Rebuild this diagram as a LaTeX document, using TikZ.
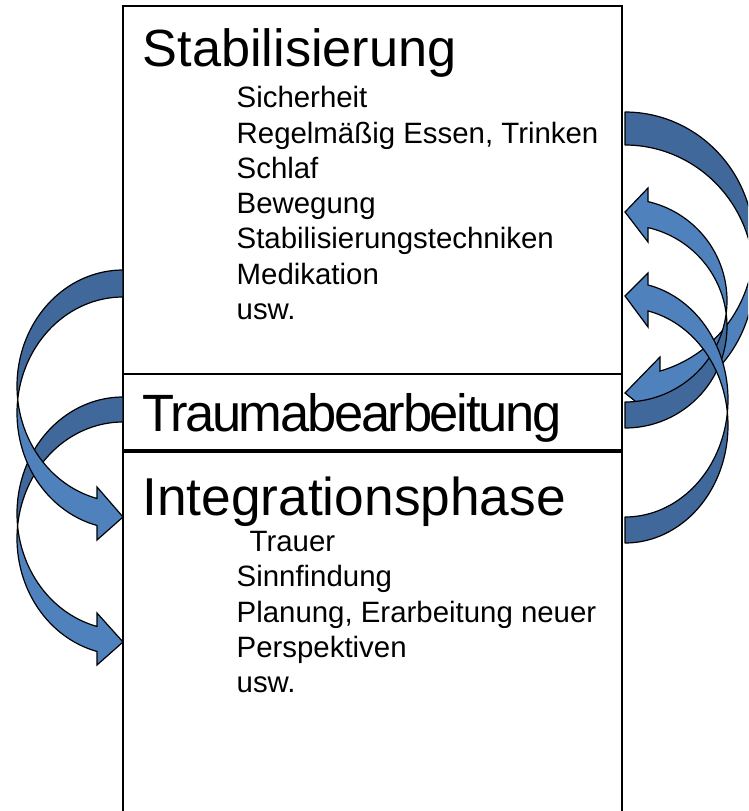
\documentclass[tikz,border=0pt]{standalone}
\usepackage{fontspec}
\setmainfont{Liberation Sans}
\newfontfamily\condfont[LetterSpace=-4.4]{Liberation Sans}
\definecolor{arrdark}{RGB}{64,104,154}
\definecolor{arrlight}{RGB}{79,129,189}
\tikzset{
  boxline/.style={draw=black, line width=1.3pt},
  backband/.style={fill=arrdark, draw=black, line width=1.2pt, line join=round},
  frontband/.style={fill=arrlight, draw=black, line width=1.2pt, line join=miter},
  titletext/.style={anchor=base west, inner sep=0pt, font=\fontsize{52.5}{60}\selectfont},
  itemtext/.style={anchor=base west, inner sep=0pt, font=\fontsize{29.4}{35.3}\selectfont},
}
\begin{document}
\begin{tikzpicture}[x=1pt,y=-1pt]
\useasboundingbox (0,0) rectangle (748,811);
\clip (0,0) rectangle (748,811);
% boxes
\draw[boxline] (123,6) rectangle (622,374);
\draw[boxline] (123,374) rectangle (622,450);
\draw[boxline] (123,452) rectangle (622,830);
% titles
\node[titletext, font=\fontsize{52.3}{60}\selectfont] (t1) at (142.5,66.7) {Stabilisierung};
\node[titletext] (t2) at (142,431.7) {\condfont Traumabearbeitung};
\node[titletext, font=\fontsize{53.3}{60}\selectfont] (t3) at (142,515) {Integrationsphase};
% upper list
\node[itemtext] (s1) at (236.5,107.7) {Sicherheit};
\node[itemtext] (s2) at (236.5,143.0) {Regelmäßig Essen, Trinken};
\node[itemtext] (s3) at (236.5,178.3) {Schlaf};
\node[itemtext] (s4) at (236.5,213.6) {Bewegung};
\node[itemtext] (s5) at (236.5,248.9) {Stabilisierungstechniken};
\node[itemtext] (s6) at (236.5,284.2) {Medikation};
\node[itemtext] (s7) at (236.5,319.5) {usw.};
% lower list
\node[itemtext] (i1) at (249.5,551.5) {Trauer};
\node[itemtext] (i2) at (236.5,586.8) {Sinnfindung};
\node[itemtext] (i3) at (236.5,622.1) {Planung, Erarbeitung neuer};
\node[itemtext] (i4) at (236.5,657.4) {Perspektiven};
\node[itemtext] (i5) at (236.5,692.7) {usw.};
% ---- left arrow B (lower) ----
\filldraw[backband] plot[domain=270:173.84, samples=60] ({123+106*cos(\x)},{513.5+116.5*sin(\x)})
  -- plot[domain=186.16:270, samples=60] ({123+106*cos(\x)},{538.5+116.5*sin(\x)}) -- cycle;
\filldraw[frontband] plot[domain=186.16:104.2, samples=60] ({123+106*cos(\x)},{538.5+116.5*sin(\x)})
  -- (97,665) -- (123,642) -- (97,613)
  -- plot[domain=104.2:173.84, samples=60] ({123+106*cos(\x)},{513.5+116.5*sin(\x)}) -- cycle;
% ---- left arrow A (upper) ----
\filldraw[backband] plot[domain=270:173.32, samples=60] ({123+106*cos(\x)},{386+116*sin(\x)})
  -- plot[domain=186.68:270, samples=60] ({123+106*cos(\x)},{413+116*sin(\x)}) -- cycle;
\filldraw[frontband] plot[domain=186.68:104.2, samples=60] ({123+106*cos(\x)},{413+116*sin(\x)})
  -- (97,540) -- (123,517) -- (97,487)
  -- plot[domain=104.2:173.32, samples=60] ({123+106*cos(\x)},{386+116*sin(\x)}) -- cycle;
% ---- right arrow C (from top, head down) ----
\filldraw[backband] plot[domain=-90:7.18, samples=60] ({625+129*cos(\x)},{244+132*sin(\x)})
  -- plot[domain=-7.18:-90, samples=60] ({625+129*cos(\x)},{277+132*sin(\x)}) -- cycle;
\filldraw[frontband] plot[domain=-7.18:74.26, samples=60] ({625+129*cos(\x)},{277+132*sin(\x)})
  -- (660,421) -- (625,393) -- (660,357)
  -- plot[domain=74.26:7.18, samples=60] ({625+129*cos(\x)},{244+132*sin(\x)}) -- cycle;
% ---- right arrow D (from box 2, head up) ----
\filldraw[backband] plot[domain=90:-7.36, samples=60] ({625+102*cos(\x)},{326.5+101.5*sin(\x)})
  -- plot[domain=7.36:90, samples=60] ({625+102*cos(\x)},{300.5+101.5*sin(\x)}) -- cycle;
\filldraw[frontband] plot[domain=7.36:-76.97, samples=60] ({625+102*cos(\x)},{300.5+101.5*sin(\x)})
  -- (648,188) -- (625,212) -- (648,242)
  -- plot[domain=-76.97:-7.36, samples=60] ({625+102*cos(\x)},{326.5+101.5*sin(\x)}) -- cycle;
% ---- right arrow E (from box 3, head up) ----
\filldraw[backband] plot[domain=90:-6.35, samples=60] ({625+103*cos(\x)},{425.5+117.5*sin(\x)})
  -- plot[domain=6.35:90, samples=60] ({625+103*cos(\x)},{399.5+117.5*sin(\x)}) -- cycle;
\filldraw[frontband] plot[domain=6.35:-77.1, samples=60] ({625+103*cos(\x)},{399.5+117.5*sin(\x)})
  -- (648,273) -- (625,296) -- (648,327)
  -- plot[domain=-77.1:-6.35, samples=60] ({625+103*cos(\x)},{425.5+117.5*sin(\x)}) -- cycle;
\end{tikzpicture}
\end{document}
